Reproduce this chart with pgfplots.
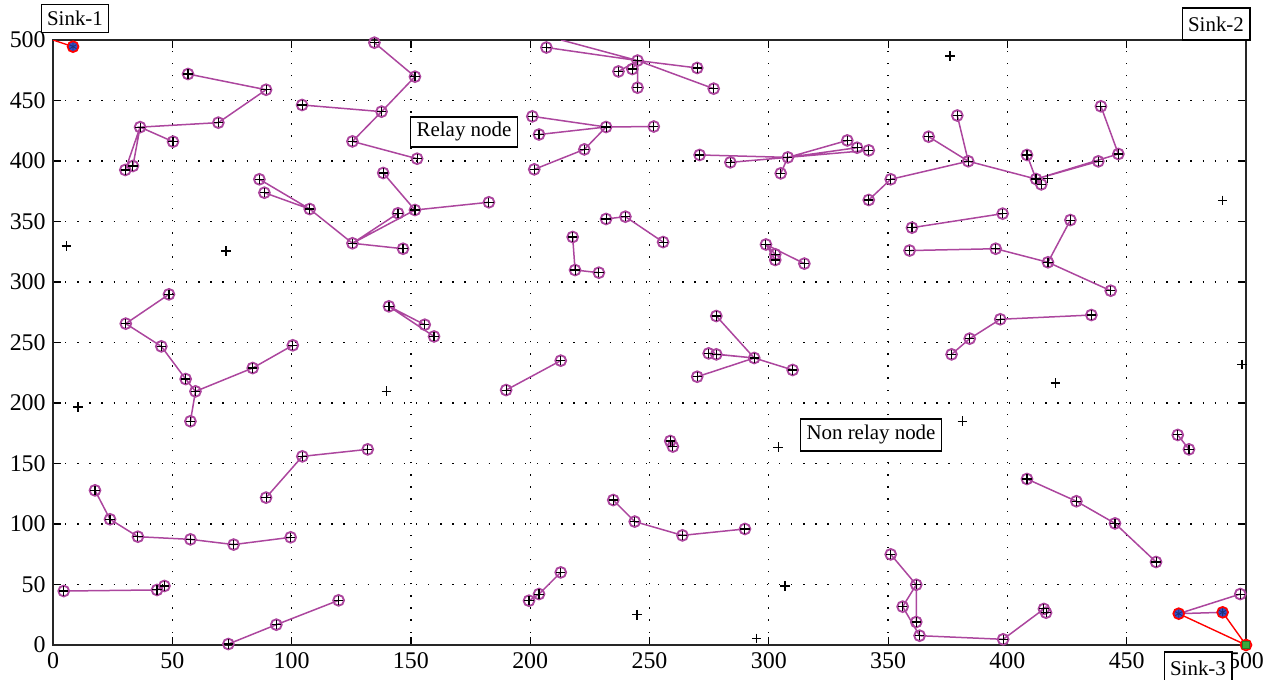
\documentclass[border=0pt]{standalone}
\usepackage{fontspec}
\setmainfont{Liberation Serif}
\usepackage{pgfplots}
\pgfplotsset{compat=1.18}
\definecolor{relay}{RGB}{172,70,158}
\definecolor{sinkblue}{RGB}{50,80,200}
\definecolor{sinkgreen}{RGB}{60,170,60}
\begin{document}
\fontsize{10.5}{12}\selectfont
\begin{tikzpicture}
\useasboundingbox (-26.5bp,-17.5bp) rectangle (606.5bp,322.5bp);
\begin{axis}[at={(0,0)}, anchor=south west, scale only axis,
  width=596.5bp, height=302.5bp,
  xmin=0, xmax=500, ymin=0, ymax=500,
  xtick={0,50,...,500}, ytick={0,50,...,500},
  grid=major, grid style={black, line width=0.65bp, dash pattern=on 0.65bp off 5.4bp},
  tick align=inside, tick pos=both, major tick length=4bp,
  tick style={black, line width=0.6bp},
  axis line style={black!85, line width=0.9bp},
  /pgf/number format/assume math mode=true,
  ticklabel style={font=\fontsize{12}{14}\selectfont},
  clip mode=individual]
% edges between relay nodes
\addplot[relay, line width=0.75bp, unbounded coords=jump, no marks] table[row sep=\\]{
x y\\
56.6 471.9\\ 89.3 458.9\\ 69.3 431.7\\ 36.5 428\\ 50.3 416\\ nan nan\\
36.5 428\\ 30.3 392.6\\ nan nan\\ 36.5 428\\ 33.5 395.9\\ nan nan\\
86.5 384.9\\ 107.6 360.3\\ 125.5 332\\ 146.7 327.5\\ nan nan\\
88.6 373.8\\ 107.6 360.3\\ nan nan\\ 125.5 332\\ 144.6 356.8\\ nan nan\\
125.5 332\\ 151.7 359.5\\ 182.7 365.9\\ nan nan\\ 151.7 359.5\\ 138.4 390.1\\ nan nan\\
134.7 497.8\\ 151.7 469.7\\ 137.7 440.8\\ 125.5 416.2\\ 152.6 401.9\\ nan nan\\
104.4 446.3\\ 137.7 440.8\\ nan nan\\
206.8 493.8\\ 245 483\\ 270 476.9\\ nan nan\\ 245 483\\ 276.9 459.8\\ nan nan\\
237 474\\ 245 483\\ nan nan\\ 242.8 476\\ 245 483\\ nan nan\\ 245 483\\ 245 460.6\\ nan nan\\
245 483\\ 213 500\\ nan nan\\
200.9 436.9\\ 231.8 428.1\\ 251.8 428.5\\ nan nan\\
203.7 421.9\\ 231.8 428.1\\ 222.7 409.6\\ 201.7 393.1\\ nan nan\\
231.8 352.1\\ 239.9 354\\ 255.7 333\\ nan nan\\
217.8 337.2\\ 218.8 309.9\\ 228.8 307.7\\ nan nan\\
140.8 279.9\\ 155.8 264.7\\ nan nan\\ 140.8 279.9\\ 159.7 255\\ nan nan\\
189.9 210.7\\ 212.8 235\\ nan nan\\
271 405\\ 308 403\\ nan nan\\ 283.9 398.9\\ 308 403\\ 305 389.8\\ nan nan\\
308 403\\ 332.9 417\\ nan nan\\ 308 403\\ 337 411\\ nan nan\\ 308 403\\ 341.9 408.8\\ nan nan\\
379 437.6\\ 383.6 399.8\\ nan nan\\ 367 420.1\\ 383.6 399.8\\ 351.1 384.9\\ 341.9 367.8\\ nan nan\\
383.6 399.8\\ 412 385.1\\ nan nan\\ 408.2 405\\ 412 385.1\\ 414.2 380.7\\ nan nan\\
412 385.1\\ 438.1 399.7\\ nan nan\\ 412 385.1\\ 446.5 405.8\\ 439.2 445.2\\ nan nan\\
360 344.9\\ 398 356.5\\ nan nan\\
298.8 331\\ 302.7 322.9\\ nan nan\\ 298.8 331\\ 302.7 318.2\\ nan nan\\ 298.8 331\\ 314.9 315.2\\ nan nan\\
359 326\\ 395.1 327.5\\ 417 316.3\\ 426.4 351.2\\ nan nan\\ 417 316.3\\ 443.3 292.8\\ nan nan\\
376.6 240.2\\ 384.2 253.2\\ 397 269.2\\ 435.2 272.7\\ nan nan\\
471.4 173.6\\ 476.1 161.7\\ nan nan\\
278 271.9\\ 293.9 237.2\\ 310 227.3\\ nan nan\\ 274.8 241\\ 293.9 237.2\\ nan nan\\
278 240.2\\ 293.9 237.2\\ nan nan\\ 270 221.7\\ 293.9 237.2\\ nan nan\\
258.7 168.6\\ 259.8 164\\ nan nan\\
48.6 289.8\\ 30.5 265.6\\ 45.4 246.8\\ 55.6 219.8\\ 59.7 209.6\\ 57.6 184.9\\ nan nan\\
59.7 209.6\\ 83.7 228.9\\ 100.5 247.7\\ nan nan\\
17.6 127.8\\ 23.9 103.9\\ 35.6 89.5\\ 57.6 87.3\\ 75.7 83\\ 99.6 89\\ nan nan\\
4.5 44.6\\ 43.6 45.5\\ 46.7 48.8\\ nan nan\\
73.5 0.8\\ 93.6 16.8\\ 119.7 36.9\\ nan nan\\
89.3 121.8\\ 104.5 155.9\\ 131.9 161.7\\ nan nan\\
199.5 36.6\\ 203.7 42.1\\ 212.8 60\\ nan nan\\
234.8 119.8\\ 243.8 102\\ 263.8 90.6\\ 290 95.9\\ nan nan\\
351.1 74.9\\ 361.8 49.8\\ 356.1 31.7\\ 363.2 7.7\\ 398.2 4.7\\ 415.3 29.8\\ nan nan\\
361.8 49.8\\ 361.8 19\\ nan nan\\
408.2 137.2\\ 428.9 118.8\\ 445.1 100.5\\ 462.3 68.6\\ nan nan\\
471.8 25.9\\ 497.6 42.1\\ nan nan\\ 471.8 25.9\\ 490.2 27\\
};
% links to sinks
\addplot[red, line width=0.7bp, unbounded coords=jump, no marks] table[row sep=\\]{
x y\\
0 500\\ 8.4 494.5\\ nan nan\\ 471.8 25.9\\ 500 0\\ 490.2 27\\
};
% relay nodes
\pgfplotstableread[row sep=\\]{
x y\\
56.6 471.9\\ 89.3 458.9\\ 69.3 431.7\\ 36.5 428\\ 50.3 416\\ 30.3 392.6\\ 33.5 395.9\\
86.5 384.9\\ 88.6 373.8\\ 107.6 360.3\\ 125.5 332\\ 146.7 327.5\\ 144.6 356.8\\ 151.7 359.5\\
182.7 365.9\\ 138.4 390.1\\ 134.7 497.8\\ 151.7 469.7\\ 137.7 440.8\\ 125.5 416.2\\ 152.6 401.9\\
104.4 446.3\\ 206.8 493.8\\ 245 483\\ 270 476.9\\ 276.9 459.8\\ 237 474\\ 242.8 476\\ 245 460.6\\
200.9 436.9\\ 231.8 428.1\\ 251.8 428.5\\ 203.7 421.9\\ 222.7 409.6\\ 201.7 393.1\\
231.8 352.1\\ 239.9 354\\ 255.7 333\\ 217.8 337.2\\ 218.8 309.9\\ 228.8 307.7\\
140.8 279.9\\ 155.8 264.7\\ 159.7 255\\ 189.9 210.7\\ 212.8 235\\
271 405\\ 308 403\\ 283.9 398.9\\ 305 389.8\\ 332.9 417\\ 337 411\\ 341.9 408.8\\
379 437.6\\ 383.6 399.8\\ 367 420.1\\ 351.1 384.9\\ 341.9 367.8\\ 412 385.1\\ 408.2 405\\
414.2 380.7\\ 438.1 399.7\\ 446.5 405.8\\ 439.2 445.2\\ 360 344.9\\ 398 356.5\\
298.8 331\\ 302.7 322.9\\ 302.7 318.2\\ 314.9 315.2\\ 359 326\\ 395.1 327.5\\ 417 316.3\\
426.4 351.2\\ 443.3 292.8\\ 376.6 240.2\\ 384.2 253.2\\ 397 269.2\\ 435.2 272.7\\
471.4 173.6\\ 476.1 161.7\\ 278 271.9\\ 293.9 237.2\\ 310 227.3\\ 274.8 241\\ 278 240.2\\
270 221.7\\ 258.7 168.6\\ 259.8 164\\ 48.6 289.8\\ 30.5 265.6\\ 45.4 246.8\\ 55.6 219.8\\
59.7 209.6\\ 57.6 184.9\\ 83.7 228.9\\ 100.5 247.7\\ 17.6 127.8\\ 23.9 103.9\\ 35.6 89.5\\
57.6 87.3\\ 75.7 83\\ 99.6 89\\ 4.5 44.6\\ 43.6 45.5\\ 46.7 48.8\\ 73.5 0.8\\ 93.6 16.8\\
119.7 36.9\\ 89.3 121.8\\ 104.5 155.9\\ 131.9 161.7\\ 199.5 36.6\\ 203.7 42.1\\ 212.8 60\\
234.8 119.8\\ 243.8 102\\ 263.8 90.6\\ 290 95.9\\ 351.1 74.9\\ 361.8 49.8\\ 356.1 31.7\\
363.2 7.7\\ 398.2 4.7\\ 415.3 29.8\\ 416.2 26.7\\ 361.8 19\\ 408.2 137.2\\ 428.9 118.8\\
445.1 100.5\\ 462.3 68.6\\ 497.6 42.1\\
}\relaytable
\addplot[only marks, mark=o, mark size=2.7bp, mark options={draw=relay, line width=0.95bp}] table {\relaytable};
\addplot[only marks, mark=+, mark size=2.3bp, mark options={draw=black, line width=0.55bp}] table {\relaytable};
% non-relay nodes
\addplot[only marks, mark=+, mark size=2.4bp, mark options={draw=black, line width=0.6bp}] table[row sep=\\]{
x y\\
5.6 329.8\\ 72.5 325.6\\ 10.5 196.7\\ 139.7 209.7\\ 244.8 25\\ 294.9 5.5\\ 306.8 48.8\\
303.9 163.4\\ 381.1 184.9\\ 420.1 216.5\\ 498.3 231.8\\ 490.2 367.5\\ 375.9 486.8\\ 416.9 385.7\\
};
% nodes linked to a sink
\addplot[only marks, mark=*, mark size=2.7bp, mark options={draw=red, fill=sinkblue, line width=0.9bp}] table[row sep=\\]{
x y\\ 8.4 494.5\\ 471.8 25.9\\ 490.2 27\\
};
\addplot[only marks, mark=asterisk, mark size=2bp, mark options={draw=sinkblue!60!black, line width=0.4bp}] table[row sep=\\]{
x y\\ 8.4 494.5\\ 471.8 25.9\\ 490.2 27\\
};
% sink 3
\addplot[only marks, mark=o, mark size=2.7bp, mark options={draw=red, line width=0.9bp}] table[row sep=\\]{
x y\\ 500 0\\
};
\addplot[only marks, mark=square*, mark size=1.8bp, mark options={draw=sinkgreen!70!black, fill=sinkgreen}] table[row sep=\\]{
x y\\ 500 0\\
};
\end{axis}
\tikzset{lab/.style={draw=black, fill=white, line width=0.6bp, inner xsep=3bp, inner ysep=0pt, minimum height=14bp, font=\fontsize{10.5}{12}\selectfont}}
\node[lab] at (11bp,313.25bp) {Sink-1};
\node[lab, minimum height=16bp] at (581.5bp,310.5bp) {Sink-2};
\node[lab, minimum height=16bp] at (572.5bp,-11.5bp) {Sink-3};
\node[lab, minimum height=15bp] at (205.5bp,256.5bp) {Relay node};
\node[lab, minimum height=16bp] at (409bp,105bp) {Non relay node};
\end{tikzpicture}
\end{document}
